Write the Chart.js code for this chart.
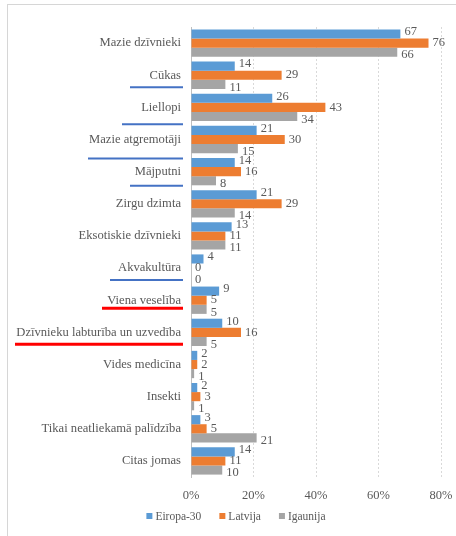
<!DOCTYPE html>
<html>
<head>
<meta charset="utf-8">
<script src="https://cdn.jsdelivr.net/npm/chart.js@4.4.1/dist/chart.umd.min.js"></script>
<style>
  html, body { margin: 0; padding: 0; background: #fff; }
  #frame { position: absolute; left: 7px; top: 4px; width: 449px; height: 532px;
           border-top: 1px solid #d6d6d6; border-left: 1px solid #d6d6d6; }
  #myChart { position: absolute; left: 0; top: 0; }
</style>
</head>
<body>
<div id="frame"></div>
<canvas id="myChart" width="456" height="536"></canvas>
<script>
// categories and values (% of respondents)
const categories = ['Mazie dzīvnieki', 'Cūkas', 'Liellopi', 'Mazie atgremotāji', 'Mājputni',
    'Zirgu dzimta', 'Eksotiskie dzīvnieki', 'Akvakultūra', 'Viena veselība',
    'Dzīvnieku labturība un uzvedība', 'Vides medicīna', 'Insekti',
    'Tikai neatliekamā palīdzība', 'Citas jomas'];
const eiropa30 = [67, 14, 26, 21, 14, 21, 13, 4, 9, 10, 2, 2, 3, 14];
const latvija = [76, 29, 43, 30, 16, 29, 11, 0, 5, 16, 2, 3, 5, 11];
const igaunija = [66, 11, 34, 15, 8, 14, 11, 0, 5, 5, 1, 1, 21, 10];
const xTicks = [0, 20, 40, 60, 80];

const grey = '#595959';
const serif = "'Liberation Serif', 'DejaVu Serif', serif";

// value labels next to each bar
const valueLabels = {
    id: 'valueLabels',
    afterDatasetsDraw(chart) {
        const c = chart.ctx;
        const offsets = [-2, 0, 3];
        c.save();
        c.font = '12.5px ' + serif;
        c.fillStyle = grey;
        c.textBaseline = 'middle';
        chart.data.datasets.forEach((ds, di) => {
            chart.getDatasetMeta(di).data.forEach((bar, i) => {
                c.fillText(String(ds.data[i]), bar.x + 4, bar.y + offsets[di]);
            });
        });
        c.restore();
    }
};

// legend drawn by hand to get the tight Excel-like spacing
const bottomLegend = {
    id: 'bottomLegend',
    afterDraw(chart) {
        const c = chart.ctx;
        const y = 517, box = 6, gap = 3, space = 18;
        c.save();
        c.font = '11.5px ' + serif;
        c.textBaseline = 'middle';
        const items = chart.data.datasets.map(ds => ({
            text: ds.label, color: ds.backgroundColor, w: c.measureText(ds.label).width
        }));
        const total = items.reduce((s, it) => s + box + gap + it.w, 0) + space * (items.length - 1);
        let x = 236 - total / 2;
        items.forEach(it => {
            c.fillStyle = it.color;
            c.fillRect(x, y - box / 2 - 1, box, box);
            c.fillStyle = grey;
            c.fillText(it.text, x + box + gap, y);
            x += box + gap + it.w + space;
        });
        c.restore();
    }
};

// hand-drawn underlines under some category names
const underlines = {
    id: 'underlines',
    afterDraw(chart) {
        const y = chart.scales.y;
        const c = chart.ctx;
        const marks = [
            { i: 1, x0: 130, dy: 12, color: '#4472c4', w: 2 },
            { i: 2, x0: 122, dy: 17, color: '#4472c4', w: 2 },
            { i: 3, x0: 88, dy: 19, color: '#4472c4', w: 2 },
            { i: 4, x0: 130, dy: 14, color: '#4472c4', w: 2 },
            { i: 7, x0: 110, dy: 12, color: '#4472c4', w: 2 },
            { i: 8, x0: 102, dy: 8, color: '#ff0000', w: 3 },
            { i: 9, x0: 15, dy: 12, color: '#ff0000', w: 3 }
        ];
        c.save();
        marks.forEach(m => {
            const py = y.getPixelForTick(m.i) + m.dy;
            c.strokeStyle = m.color;
            c.lineWidth = m.w;
            c.beginPath();
            c.moveTo(m.x0, py);
            c.lineTo(183, py);
            c.stroke();
        });
        c.restore();
    }
};

const ctx = document.getElementById('myChart');
new Chart(ctx, {
    type: 'bar',
    data: {
        labels: categories,
        datasets: [
            { label: 'Eiropa-30', data: eiropa30, backgroundColor: '#5b9bd5' },
            { label: 'Latvija', data: latvija, backgroundColor: '#ed7d31' },
            { label: 'Igaunija', data: igaunija, backgroundColor: '#a5a5a5' }
        ]
    },
    options: {
        indexAxis: 'y',
        responsive: false,
        animation: false,
        devicePixelRatio: 1,
        layout: { padding: { top: 27, right: 15, left: 0, bottom: 0 } },
        datasets: { bar: { barPercentage: 1, categoryPercentage: 0.85 } },
        scales: {
            x: {
                min: 0, max: 80,
                afterBuildTicks(scale) { scale.ticks = xTicks.map(v => ({ value: v })); },
                afterFit(scale) { scale.height = 59; scale.paddingRight = 12; },
                ticks: { callback: v => v + '%', color: grey, font: { family: serif, size: 12.5 }, padding: 11 },
                grid: {
                    color: c => c.tick && c.tick.value === 0 ? 'rgba(0,0,0,0)' : '#d9d9d9',
                    drawTicks: false
                },
                border: { display: false, dash: [2, 2] }
            },
            y: {
                afterFit(scale) { scale.width = 191; },
                ticks: { color: grey, font: { family: serif, size: 12.6 }, padding: 10, autoSkip: false },
                grid: { display: false, drawTicks: false },
                border: { display: true, color: '#bfbfbf' }
            }
        },
        plugins: {
            legend: { display: false },
            tooltip: { enabled: false }
        }
    },
    plugins: [valueLabels, bottomLegend, underlines]
});
</script>
</body>
</html>
